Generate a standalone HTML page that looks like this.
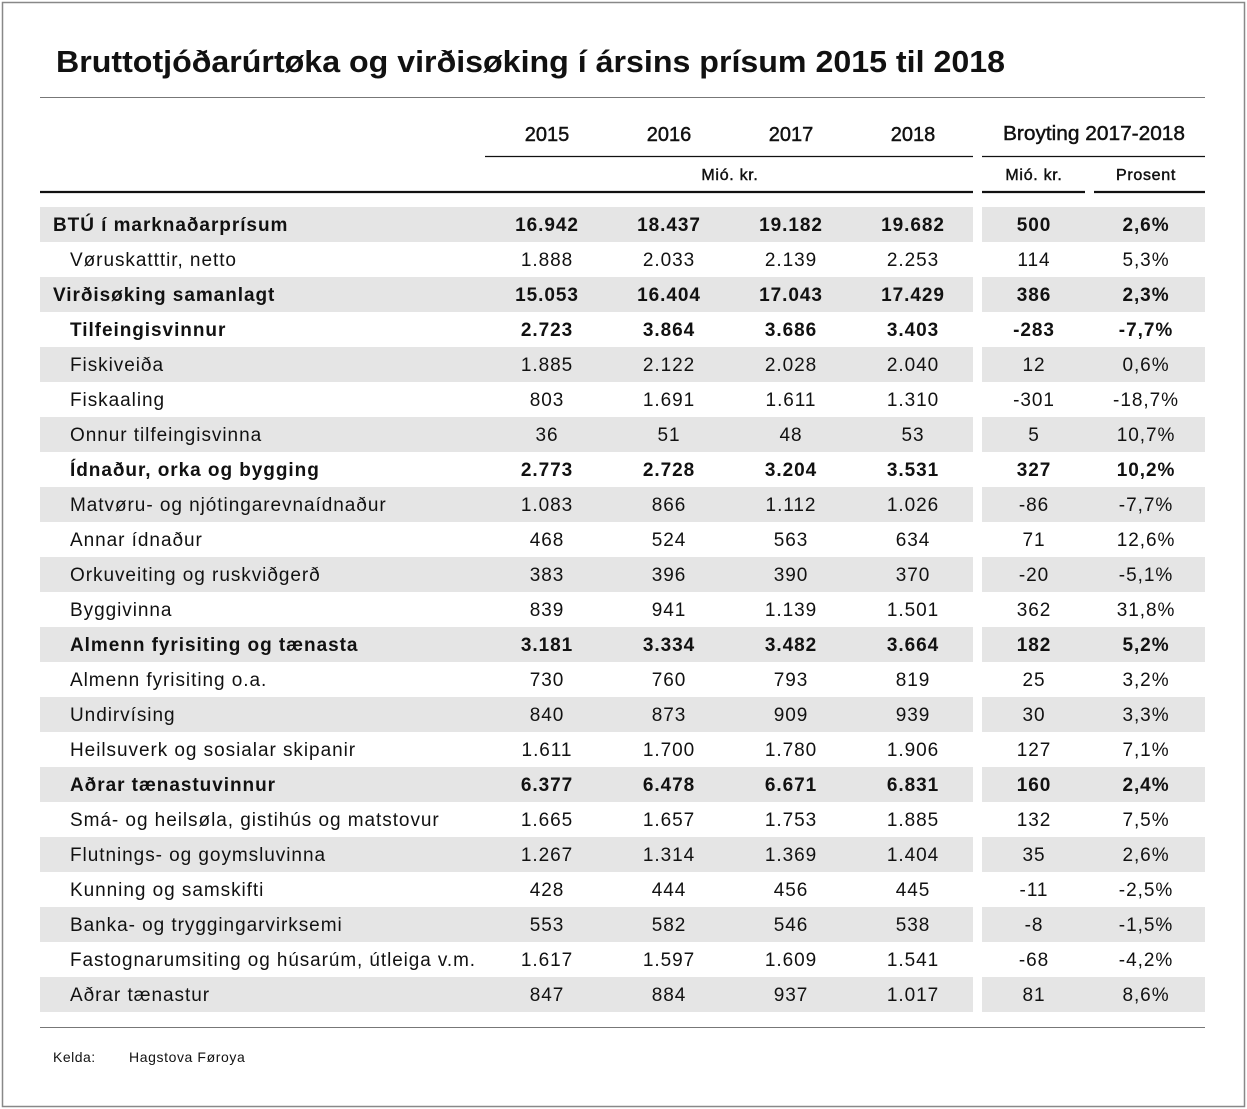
<!DOCTYPE html>
<html><head><meta charset="utf-8"><style>
html,body{margin:0;padding:0;background:#fff}
svg{display:block}
text{font-family:"Liberation Sans","DejaVu Sans",sans-serif;fill:#111}
.b{font-weight:bold}
.r{font-size:19px;letter-spacing:0.95px}
.c{text-anchor:middle}
.sb{stroke:#111;stroke-width:0.45px}
</style></head><body>
<svg width="1247" height="1109" viewBox="0 0 1247 1109" xmlns="http://www.w3.org/2000/svg">
<rect x="2.5" y="2.5" width="1242" height="1104" fill="#fff" stroke="#888" stroke-width="1.5"/>
<text x="56" y="72" class="b" font-size="31" textLength="949" lengthAdjust="spacingAndGlyphs">Bruttotjóðarúrtøka og virðisøking í ársins prísum 2015 til 2018</text>
<line x1="40" y1="97.5" x2="1205" y2="97.5" stroke="#777" stroke-width="1"/>
<g font-size="20" class="sb">
<text x="547" y="141" class="c">2015</text>
<text x="669" y="141" class="c">2016</text>
<text x="791" y="141" class="c">2017</text>
<text x="913" y="141" class="c">2018</text>
<text x="1094" y="140" class="c" textLength="182" lengthAdjust="spacingAndGlyphs">Broyting 2017-2018</text>
</g>
<line x1="485" y1="156.5" x2="973" y2="156.5" stroke="#111" stroke-width="1.3"/>
<line x1="982" y1="156.5" x2="1205" y2="156.5" stroke="#111" stroke-width="1.3"/>
<g font-size="16" class="sb" letter-spacing="0.7">
<text x="730" y="180" class="c">Mió. kr.</text>
<text x="1034" y="180" class="c">Mió. kr.</text>
<text x="1146" y="180" class="c">Prosent</text>
</g>
<line x1="40" y1="192" x2="973" y2="192" stroke="#111" stroke-width="2.2"/>
<line x1="982" y1="192" x2="1085" y2="192" stroke="#111" stroke-width="2.2"/>
<line x1="1094" y1="192" x2="1205" y2="192" stroke="#111" stroke-width="2.2"/>
<g fill="#e5e5e5">
<rect x="40" y="207" width="933" height="35"/><rect x="982" y="207" width="223" height="35"/>
<rect x="40" y="277" width="933" height="35"/><rect x="982" y="277" width="223" height="35"/>
<rect x="40" y="347" width="933" height="35"/><rect x="982" y="347" width="223" height="35"/>
<rect x="40" y="417" width="933" height="35"/><rect x="982" y="417" width="223" height="35"/>
<rect x="40" y="487" width="933" height="35"/><rect x="982" y="487" width="223" height="35"/>
<rect x="40" y="557" width="933" height="35"/><rect x="982" y="557" width="223" height="35"/>
<rect x="40" y="627" width="933" height="35"/><rect x="982" y="627" width="223" height="35"/>
<rect x="40" y="697" width="933" height="35"/><rect x="982" y="697" width="223" height="35"/>
<rect x="40" y="767" width="933" height="35"/><rect x="982" y="767" width="223" height="35"/>
<rect x="40" y="837" width="933" height="35"/><rect x="982" y="837" width="223" height="35"/>
<rect x="40" y="907" width="933" height="35"/><rect x="982" y="907" width="223" height="35"/>
<rect x="40" y="977" width="933" height="35"/><rect x="982" y="977" width="223" height="35"/>
</g>
<g class="r">
<g class="b"><text x="53" y="231">BTÚ í marknaðarprísum</text><text x="547" y="231" class="c">16.942</text><text x="669" y="231" class="c">18.437</text><text x="791" y="231" class="c">19.182</text><text x="913" y="231" class="c">19.682</text><text x="1034" y="231" class="c">500</text><text x="1146" y="231" class="c">2,6%</text></g>
<g><text x="70" y="266">Vøruskatttir, netto</text><text x="547" y="266" class="c">1.888</text><text x="669" y="266" class="c">2.033</text><text x="791" y="266" class="c">2.139</text><text x="913" y="266" class="c">2.253</text><text x="1034" y="266" class="c">114</text><text x="1146" y="266" class="c">5,3%</text></g>
<g class="b"><text x="53" y="301">Virðisøking samanlagt</text><text x="547" y="301" class="c">15.053</text><text x="669" y="301" class="c">16.404</text><text x="791" y="301" class="c">17.043</text><text x="913" y="301" class="c">17.429</text><text x="1034" y="301" class="c">386</text><text x="1146" y="301" class="c">2,3%</text></g>
<g class="b"><text x="70" y="336">Tilfeingisvinnur</text><text x="547" y="336" class="c">2.723</text><text x="669" y="336" class="c">3.864</text><text x="791" y="336" class="c">3.686</text><text x="913" y="336" class="c">3.403</text><text x="1034" y="336" class="c">-283</text><text x="1146" y="336" class="c">-7,7%</text></g>
<g><text x="70" y="371">Fiskiveiða</text><text x="547" y="371" class="c">1.885</text><text x="669" y="371" class="c">2.122</text><text x="791" y="371" class="c">2.028</text><text x="913" y="371" class="c">2.040</text><text x="1034" y="371" class="c">12</text><text x="1146" y="371" class="c">0,6%</text></g>
<g><text x="70" y="406">Fiskaaling</text><text x="547" y="406" class="c">803</text><text x="669" y="406" class="c">1.691</text><text x="791" y="406" class="c">1.611</text><text x="913" y="406" class="c">1.310</text><text x="1034" y="406" class="c">-301</text><text x="1146" y="406" class="c">-18,7%</text></g>
<g><text x="70" y="441">Onnur tilfeingisvinna</text><text x="547" y="441" class="c">36</text><text x="669" y="441" class="c">51</text><text x="791" y="441" class="c">48</text><text x="913" y="441" class="c">53</text><text x="1034" y="441" class="c">5</text><text x="1146" y="441" class="c">10,7%</text></g>
<g class="b"><text x="70" y="476">Ídnaður, orka og bygging</text><text x="547" y="476" class="c">2.773</text><text x="669" y="476" class="c">2.728</text><text x="791" y="476" class="c">3.204</text><text x="913" y="476" class="c">3.531</text><text x="1034" y="476" class="c">327</text><text x="1146" y="476" class="c">10,2%</text></g>
<g><text x="70" y="511">Matvøru- og njótingarevnaídnaður</text><text x="547" y="511" class="c">1.083</text><text x="669" y="511" class="c">866</text><text x="791" y="511" class="c">1.112</text><text x="913" y="511" class="c">1.026</text><text x="1034" y="511" class="c">-86</text><text x="1146" y="511" class="c">-7,7%</text></g>
<g><text x="70" y="546">Annar ídnaður</text><text x="547" y="546" class="c">468</text><text x="669" y="546" class="c">524</text><text x="791" y="546" class="c">563</text><text x="913" y="546" class="c">634</text><text x="1034" y="546" class="c">71</text><text x="1146" y="546" class="c">12,6%</text></g>
<g><text x="70" y="581">Orkuveiting og ruskviðgerð</text><text x="547" y="581" class="c">383</text><text x="669" y="581" class="c">396</text><text x="791" y="581" class="c">390</text><text x="913" y="581" class="c">370</text><text x="1034" y="581" class="c">-20</text><text x="1146" y="581" class="c">-5,1%</text></g>
<g><text x="70" y="616">Byggivinna</text><text x="547" y="616" class="c">839</text><text x="669" y="616" class="c">941</text><text x="791" y="616" class="c">1.139</text><text x="913" y="616" class="c">1.501</text><text x="1034" y="616" class="c">362</text><text x="1146" y="616" class="c">31,8%</text></g>
<g class="b"><text x="70" y="651">Almenn fyrisiting og tænasta</text><text x="547" y="651" class="c">3.181</text><text x="669" y="651" class="c">3.334</text><text x="791" y="651" class="c">3.482</text><text x="913" y="651" class="c">3.664</text><text x="1034" y="651" class="c">182</text><text x="1146" y="651" class="c">5,2%</text></g>
<g><text x="70" y="686">Almenn fyrisiting o.a.</text><text x="547" y="686" class="c">730</text><text x="669" y="686" class="c">760</text><text x="791" y="686" class="c">793</text><text x="913" y="686" class="c">819</text><text x="1034" y="686" class="c">25</text><text x="1146" y="686" class="c">3,2%</text></g>
<g><text x="70" y="721">Undirvísing</text><text x="547" y="721" class="c">840</text><text x="669" y="721" class="c">873</text><text x="791" y="721" class="c">909</text><text x="913" y="721" class="c">939</text><text x="1034" y="721" class="c">30</text><text x="1146" y="721" class="c">3,3%</text></g>
<g><text x="70" y="756">Heilsuverk og sosialar skipanir</text><text x="547" y="756" class="c">1.611</text><text x="669" y="756" class="c">1.700</text><text x="791" y="756" class="c">1.780</text><text x="913" y="756" class="c">1.906</text><text x="1034" y="756" class="c">127</text><text x="1146" y="756" class="c">7,1%</text></g>
<g class="b"><text x="70" y="791">Aðrar tænastuvinnur</text><text x="547" y="791" class="c">6.377</text><text x="669" y="791" class="c">6.478</text><text x="791" y="791" class="c">6.671</text><text x="913" y="791" class="c">6.831</text><text x="1034" y="791" class="c">160</text><text x="1146" y="791" class="c">2,4%</text></g>
<g><text x="70" y="826">Smá- og heilsøla, gistihús og matstovur</text><text x="547" y="826" class="c">1.665</text><text x="669" y="826" class="c">1.657</text><text x="791" y="826" class="c">1.753</text><text x="913" y="826" class="c">1.885</text><text x="1034" y="826" class="c">132</text><text x="1146" y="826" class="c">7,5%</text></g>
<g><text x="70" y="861">Flutnings- og goymsluvinna</text><text x="547" y="861" class="c">1.267</text><text x="669" y="861" class="c">1.314</text><text x="791" y="861" class="c">1.369</text><text x="913" y="861" class="c">1.404</text><text x="1034" y="861" class="c">35</text><text x="1146" y="861" class="c">2,6%</text></g>
<g><text x="70" y="896">Kunning og samskifti</text><text x="547" y="896" class="c">428</text><text x="669" y="896" class="c">444</text><text x="791" y="896" class="c">456</text><text x="913" y="896" class="c">445</text><text x="1034" y="896" class="c">-11</text><text x="1146" y="896" class="c">-2,5%</text></g>
<g><text x="70" y="931">Banka- og tryggingarvirksemi</text><text x="547" y="931" class="c">553</text><text x="669" y="931" class="c">582</text><text x="791" y="931" class="c">546</text><text x="913" y="931" class="c">538</text><text x="1034" y="931" class="c">-8</text><text x="1146" y="931" class="c">-1,5%</text></g>
<g><text x="70" y="966" textLength="406" lengthAdjust="spacingAndGlyphs">Fastognarumsiting og húsarúm, útleiga v.m.</text><text x="547" y="966" class="c">1.617</text><text x="669" y="966" class="c">1.597</text><text x="791" y="966" class="c">1.609</text><text x="913" y="966" class="c">1.541</text><text x="1034" y="966" class="c">-68</text><text x="1146" y="966" class="c">-4,2%</text></g>
<g><text x="70" y="1001">Aðrar tænastur</text><text x="547" y="1001" class="c">847</text><text x="669" y="1001" class="c">884</text><text x="791" y="1001" class="c">937</text><text x="913" y="1001" class="c">1.017</text><text x="1034" y="1001" class="c">81</text><text x="1146" y="1001" class="c">8,6%</text></g>
</g>
<line x1="40" y1="1027.5" x2="1205" y2="1027.5" stroke="#777" stroke-width="1"/>
<text x="53" y="1062" font-size="14" letter-spacing="0.5">Kelda:</text>
<text x="129" y="1062" font-size="14" letter-spacing="0.6">Hagstova Føroya</text>
</svg>
</body></html>
